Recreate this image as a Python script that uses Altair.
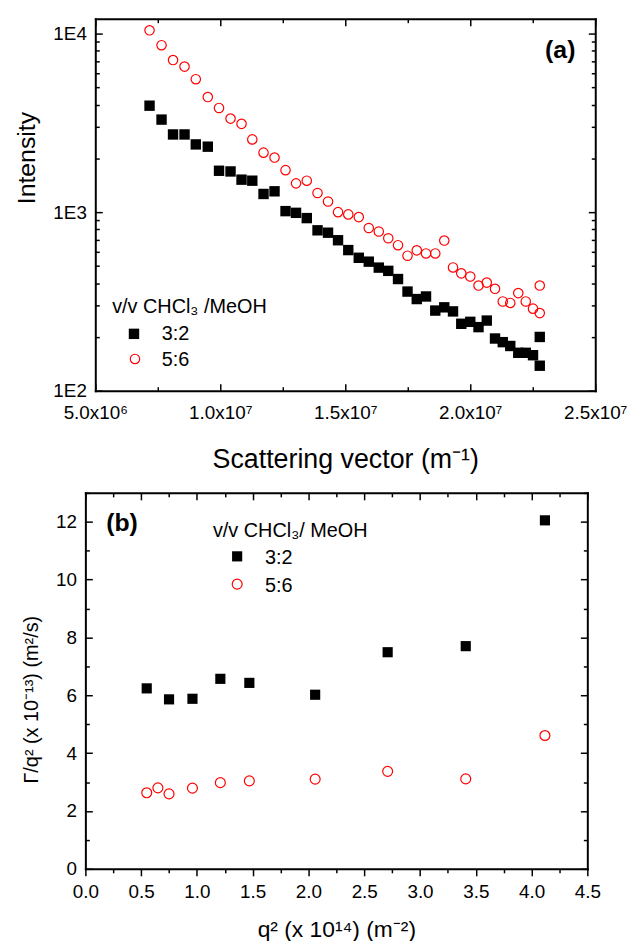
import altair as alt
import pandas as pd

FONT = "Liberation Sans"

# ---------------- panel (a): intensity vs scattering vector ----------------
a_series = ["3:2", "5:6"]
a_q = [7.17e6, 7.65e6, 8.11e6, 8.57e6, 9.02e6, 9.50e6, 9.95e6, 1.041e7, 1.085e7,
       1.128e7, 1.173e7, 1.217e7, 1.261e7, 1.303e7, 1.346e7, 1.389e7, 1.431e7,
       1.471e7, 1.512e7, 1.554e7, 1.594e7, 1.634e7, 1.672e7, 1.711e7, 1.749e7,
       1.786e7, 1.823e7, 1.860e7, 1.896e7, 1.931e7, 1.964e7, 2.000e7, 2.033e7,
       2.066e7, 2.099e7, 2.130e7, 2.160e7, 2.192e7, 2.222e7, 2.251e7, 2.278e7, 2.278e7]
a_int_32 = [3946, 3298, 2723, 2723, 2395, 2326, 1705, 1690, 1520, 1500,
            1264, 1308, 1013, 991, 926, 791, 767, 696, 613, 555,
            528, 489, 469, 422, 359, 326, 337, 281, 293, 278,
            237, 243, 227, 247, 196, 187, 178, 163, 163, 158,
            138, 200]
a_int_56 = [10430, 8610, 7107, 6531, 5552, 4410, 3831, 3341, 3122, 2554,
            2154, 2021, 1718, 1449, 1500, 1280, 1147, 1000, 971, 938,
            815, 779, 714, 653, 570, 611, 587, 587, 693, 490,
            454, 436, 388, 403, 372, 316, 310, 352, 316, 288,
            272, 388]
a_xdomain = [5e6, 2.5e7]
a_ydomain = [100, 12115]
a_xticks = [5e6, 1e7, 1.5e7, 2e7, 2.5e7]
a_xlabels = ["5.0x10\u2076", "1.0x10\u2077", "1.5x10\u2077", "2.0x10\u2077", "2.5x10\u2077"]
a_xminor = [7.5e6, 1.25e7, 1.75e7, 2.25e7]
a_yticks = [100, 1000, 10000]
a_ylabels = ["1E2", "1E3", "1E4"]
a_yminor = [200, 300, 400, 500, 600, 700, 800, 900,
            2000, 3000, 4000, 5000, 6000, 7000, 8000, 9000]
a_xtitle = "Scattering vector (m\u207b\u00b9)"
a_ytitle = "Intensity"
a_legend_title = "v/v CHCl\u2083 /MeOH"
a_tag = "(a)"

# ---------------- panel (b): Gamma/q^2 vs q^2 ----------------
b_q2_32 = [0.55, 0.75, 0.96, 1.21, 1.47, 2.06, 2.71, 3.41, 4.12]
b_g_32 = [6.24, 5.86, 5.88, 6.57, 6.43, 6.02, 7.49, 7.70, 12.05]
b_q2_56 = [0.55, 0.65, 0.75, 0.96, 1.21, 1.47, 2.06, 2.71, 3.41, 4.12]
b_g_56 = [2.63, 2.80, 2.59, 2.79, 2.98, 3.04, 3.10, 3.37, 3.11, 4.61]
b_xdomain = [0, 4.5]
b_ydomain = [0, 13]
b_xticks = [0, 0.5, 1.0, 1.5, 2.0, 2.5, 3.0, 3.5, 4.0, 4.5]
b_xlabels = ["0.0", "0.5", "1.0", "1.5", "2.0", "2.5", "3.0", "3.5", "4.0", "4.5"]
b_xminor = [0.25, 0.75, 1.25, 1.75, 2.25, 2.75, 3.25, 3.75, 4.25]
b_yticks = [0, 2, 4, 6, 8, 10, 12]
b_ylabels = ["0", "2", "4", "6", "8", "10", "12"]
b_yminor = [1, 3, 5, 7, 9, 11, 13]
b_xtitle = "q\u00b2 (x 10\u00b9\u2074) (m\u207b\u00b2)"
b_ytitle = "\u0393/q\u00b2 (x 10\u207b\u00b9\u00b3) (m\u00b2/s)"
b_legend_title = "v/v CHCl\u2083/ MeOH"
b_tag = "(b)"

df_a = pd.DataFrame({
    "x": a_q + a_q,
    "y": a_int_32 + a_int_56,
    "s": [a_series[0]] * len(a_q) + [a_series[1]] * len(a_q),
})
df_b = pd.DataFrame({
    "x": b_q2_32 + b_q2_56,
    "y": b_g_32 + b_g_56,
    "s": [a_series[0]] * len(b_q2_32) + [a_series[1]] * len(b_q2_56),
})


def label_expr(vals, labels):
    expr = "''"
    for v, l in reversed(list(zip(vals, labels))):
        expr = f"(abs(datum.value - {v!r}) < {abs(v) * 1e-6 + 1e-9!r} ? '{l}' : {expr})"
    return expr


def panel(df, W, H, xdom, xrng, ydom, ytype, xt, xl, xm, yt, yl, ym,
          xtitle, ytitle, g, extras):
    def xs():
        return alt.Scale(type="linear", domain=xdom, range=xrng, nice=False, zero=False)

    def ys():
        if ytype == "log":
            return alt.Scale(type="log", domain=ydom, nice=False)
        return alt.Scale(type="linear", domain=ydom, nice=False, zero=False)

    tick_common = dict(grid=False, domain=False, tickColor="black", tickWidth=1.5)

    def enc(xaxis, yaxis):
        return dict(x=alt.X("x:Q", scale=xs(), axis=xaxis),
                    y=alt.Y("y:Q", scale=ys(), axis=yaxis))

    base = alt.Chart(df)
    s32 = base.transform_filter(alt.datum.s == a_series[0])
    s56 = base.transform_filter(alt.datum.s == a_series[1])

    # layer 1: squares + labelled major axes (bottom / left)
    xa = alt.Axis(orient="bottom", values=xt, labelExpr=label_expr(xt, xl), tickSize=7,
                  offset=g["bot_maj"], labelPadding=g["xlabpad"], labelFontSize=19,
                  labelFont=FONT, labelColor="black", labelFlush=False, labelOverlap=False,
                  title=xtitle, titleFont=FONT, titleFontSize=g["xtfs"], titleFontWeight="normal",
                  titleColor="black", titleY=g["xtitleY"], titleBaseline="alphabetic",
                  **tick_common)
    ya = alt.Axis(orient="left", values=yt, labelExpr=label_expr(yt, yl), tickSize=7,
                  offset=g["left_maj"], labelPadding=9, labelFontSize=19,
                  labelFont=FONT, labelColor="black", labelFlush=False, labelOverlap=False,
                  title=ytitle, titleFont=FONT, titleFontSize=g["ytfs"], titleFontWeight="normal",
                  titleColor="black", titleX=g["ytitleX"], titleY=g["ytitleY"],
                  titleAngle=270, titleBaseline="alphabetic", titleAlign="center",
                  **tick_common)
    l1 = s32.mark_point(shape="square", filled=True, color="black", opacity=1,
                        size=g["sq"]).encode(**enc(xa, ya))

    # layer 2: circles + major ticks top / right
    xa2 = alt.Axis(orient="top", values=xt, labels=False, tickSize=7, offset=-7,
                   title=None, **tick_common)
    ya2 = alt.Axis(orient="right", values=yt, labels=False, tickSize=7, offset=-7,
                   title=None, **tick_common)
    l2 = s56.mark_point(shape="circle", filled=False, color="red", opacity=1,
                        strokeWidth=1.2, size=g["ci"]).encode(**enc(xa2, ya2))

    # layer 3/4: minor ticks
    xa3 = alt.Axis(orient="bottom", values=xm, labels=False, tickSize=4,
                   offset=g["bot_min"], title=None, **tick_common)
    ya3 = alt.Axis(orient="left", values=ym, labels=False, tickSize=4,
                   offset=g["left_min"], title=None, **tick_common)
    l3 = base.mark_point(opacity=0).encode(**enc(xa3, ya3))
    xa4 = alt.Axis(orient="top", values=xm, labels=False, tickSize=4, offset=-4,
                   title=None, **tick_common)
    ya4 = alt.Axis(orient="right", values=ym, labels=False, tickSize=4, offset=-4,
                   title=None, **tick_common)
    l4 = base.mark_point(opacity=0).encode(**enc(xa4, ya4))

    # layer 5/6: frame (axis domain lines)
    dom = dict(grid=False, domain=True, ticks=False, labels=False, title=None,
               domainColor="black", domainWidth=2, domainCap="square")
    l5 = base.mark_point(opacity=0).encode(**enc(
        alt.Axis(orient="bottom", offset=0, **dom),
        alt.Axis(orient="left", offset=g["left_dom"], **dom)))
    l6 = base.mark_point(opacity=0).encode(**enc(
        alt.Axis(orient="top", offset=0, **dom),
        alt.Axis(orient="right", offset=0, **dom)))

    return alt.layer(l5, l6, l3, l4, l1, l2, *extras).resolve_scale(
        x="independent", y="independent").properties(width=W, height=H)


def txt(text, x, y, size=20, weight="normal", align="left"):
    return alt.Chart(pd.DataFrame({"t": [text]})).mark_text(
        font=FONT, fontSize=size, fontWeight=weight, align=align,
        baseline="alphabetic", color="black").encode(
        x=alt.value(x), y=alt.value(y), text="t:N")


def sym(name, x, y, square, size):
    d = alt.Chart(pd.DataFrame({"s": [name]}))
    if square:
        m = d.mark_point(shape="square", filled=True, color="black", opacity=1, size=size)
    else:
        m = d.mark_point(shape="circle", filled=False, color="red", opacity=1,
                         strokeWidth=1.2, size=size)
    return m.encode(x=alt.value(x), y=alt.value(y))


extras_a = [
    txt(a_legend_title, 27, 296.5),
    sym(a_series[0], 49, 317.7, True, 110),
    txt(a_series[0], 77, 323.5),
    sym(a_series[1], 50, 343, False, 90),
    txt(a_series[1], 77, 350),
    txt(a_tag, 494, 40, size=25, weight="bold", align="right"),
]
extras_b = [
    txt(b_legend_title, 128.6, 44),
    sym(a_series[0], 153, 64, True, 105),
    txt(a_series[0], 181, 72),
    sym(a_series[1], 153, 92, False, 100),
    txt(a_series[1], 181, 100),
    txt(b_tag, 21, 38, size=25, weight="bold", align="left"),
]

geo_a = dict(bot_maj=-7, bot_min=-4, left_maj=-17, left_min=-14, left_dom=-10,
             xlabpad=13, xtfs=27, ytfs=25, xtitleY=84, ytitleX=-68, ytitleY=140,
             sq=110, ci=90)
geo_b = dict(bot_maj=0, bot_min=0, left_maj=-7, left_min=-4, left_dom=0,
             xlabpad=6.5, xtfs=23, ytfs=20, xtitleY=68, ytitleX=-55, ytitleY=208,
             sq=105, ci=100)

pa = panel(df_a, 514, 375, a_xdomain, [10, 514], a_ydomain, "log",
           a_xticks, a_xlabels, a_xminor, a_yticks, a_ylabels, a_yminor,
           a_xtitle, a_ytitle, geo_a, extras_a)
pb = panel(df_b, 506, 379, b_xdomain, [0, 506], b_ydomain, "linear",
           b_xticks, b_xlabels, b_xminor, b_yticks, b_ylabels, b_yminor,
           b_xtitle, b_ytitle, geo_b, extras_b)

chart = alt.vconcat(pa, pb, spacing=20).properties(
    padding={"left": 7, "top": 6, "right": 0, "bottom": 0}
).configure_view(strokeWidth=0)

chart.save("out.html", embed_options={"renderer": "svg", "actions": False})
